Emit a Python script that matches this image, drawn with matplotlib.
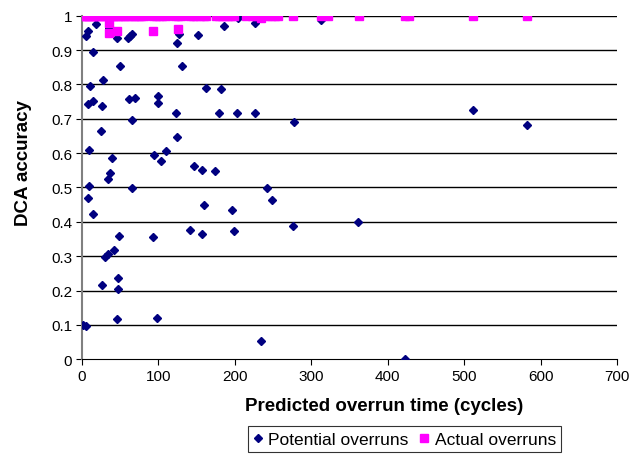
import matplotlib
matplotlib.use("Agg")
import matplotlib.pyplot as plt

plt.rcParams['font.family'] = ['Liberation Sans', 'DejaVu Sans']

# potential overruns: predicted overrun time vs. DCA accuracy
potential_x = [1.3, 5.6, 5.6, 8.6, 19.3, 15.2, 36.3, 45.7, 60, 63, 65.4, 50.5, 28.3,
               10.8, 8.2, 15.2, 26.1, 61.8, 69.3, 66.2, 25.2, 9.9, 40, 36.6, 34.8,
               65.4, 9.5, 7.8, 15.2, 49.2, 42.2, 34.8, 30.9, 26.9, 47.5, 47.5, 45.7,
               100.1, 99.7, 122.9, 124.2, 94.1, 110.6, 103.3, 124.2, 126.5, 131.1,
               152.3, 162.5, 181.7, 179.5, 203, 226.1, 186.2, 204.8, 226, 277.1,
               146.8, 157.6, 174.2, 242.2, 248.4, 92.8, 98.4, 141.6, 157.3, 160,
               196.9, 199.5, 275.8, 234.8, 312.6, 511.5, 582, 361.6, 423]
potential_y = [0.100, 0.096, 0.941, 0.956, 0.976, 0.895, 0.964, 0.935, 0.935, 0.942,
               0.947, 0.854, 0.813, 0.795, 0.743, 0.751, 0.737, 0.758, 0.760, 0.697,
               0.664, 0.609, 0.587, 0.542, 0.526, 0.499, 0.504, 0.470, 0.423, 0.359,
               0.319, 0.307, 0.298, 0.215, 0.237, 0.204, 0.118,
               0.765, 0.745, 0.718, 0.646, 0.594, 0.605, 0.576, 0.920, 0.947, 0.852,
               0.943, 0.788, 0.786, 0.718, 0.716, 0.716, 0.971, 0.992, 0.980, 0.690,
               0.563, 0.552, 0.548, 0.498, 0.463, 0.356, 0.121, 0.377, 0.365, 0.450,
               0.434, 0.373, 0.389, 0.054, 0.988, 0.725, 0.683, 0.400, 0.0]

# actual overruns: nearly all at accuracy 1
actual_on_x = [0, 3, 5, 8, 10, 12, 15, 17, 20, 23, 26, 29, 32, 35, 38, 41, 44, 47, 50,
               54, 57, 61, 64, 68, 71, 75, 78, 81, 93, 97, 101, 105, 110, 122, 126,
               130, 141, 145, 150, 155, 160, 163, 175, 179, 183, 187, 191, 195, 199,
               215, 222, 227, 242, 247, 252, 256, 276, 313, 322, 362, 422, 428, 512,
               582]
actual_off_x = [35.7, 36, 45.7, 92.8, 126.3, 234]
actual_off_y = [0.950, 0.979, 0.954, 0.955, 0.962, 0.993]

actual_x = actual_on_x + actual_off_x
actual_y = [1.0] * len(actual_on_x) + actual_off_y

fig = plt.figure(figsize=(6.41, 4.56), dpi=100)
ax = fig.add_axes([0.1275, 0.21, 0.8355, 0.7535])

for v in [i / 10 for i in range(1, 11)]:
    ax.axhline(v, color='black', lw=1.0, zorder=1)

ax.plot(potential_x, potential_y, linestyle='none', marker='D', ms=4.4,
        color='#000080', label='Potential overruns', zorder=3)
ax.plot(actual_x, actual_y, linestyle='none', marker='s', ms=5.3,
        color='#FF00FF', label='Actual overruns', zorder=4)

ax.set_xlim(0, 700)
ax.set_ylim(0, 1)
ax.set_xticks(range(0, 701, 100))
ax.set_yticks([i / 10 for i in range(11)])
ax.set_yticklabels(['0', '0.1', '0.2', '0.3', '0.4', '0.5', '0.6', '0.7', '0.8', '0.9', '1'])

for s in ['top', 'right']:
    ax.spines[s].set_visible(False)
ax.spines['left'].set_color('#808080')
ax.spines['left'].set_linewidth(1.5)
ax.spines['bottom'].set_color('black')
ax.tick_params(axis='both', labelsize=11, length=4, direction='out', pad=3)
ax.tick_params(axis='y', color='black')

ax.set_xlabel('Predicted overrun time (cycles)', fontsize=13.5, fontweight='bold', va='center')
ax.set_ylabel('DCA accuracy', fontsize=13.5, fontweight='bold', va='center')
ax.xaxis.set_label_coords(0.564, -0.136)
ax.yaxis.set_label_coords(-0.108, 0.574)

leg = fig.legend(loc='center', bbox_to_anchor=(0.631, 0.035), ncol=2, fontsize=12.5,
                 frameon=True, fancybox=False, edgecolor='black', handlelength=0.6,
                 handletextpad=0.3, columnspacing=0.6, borderpad=0.3, markerscale=1.0)
leg.get_frame().set_linewidth(0.8)

fig.savefig('out.png', dpi=100)
